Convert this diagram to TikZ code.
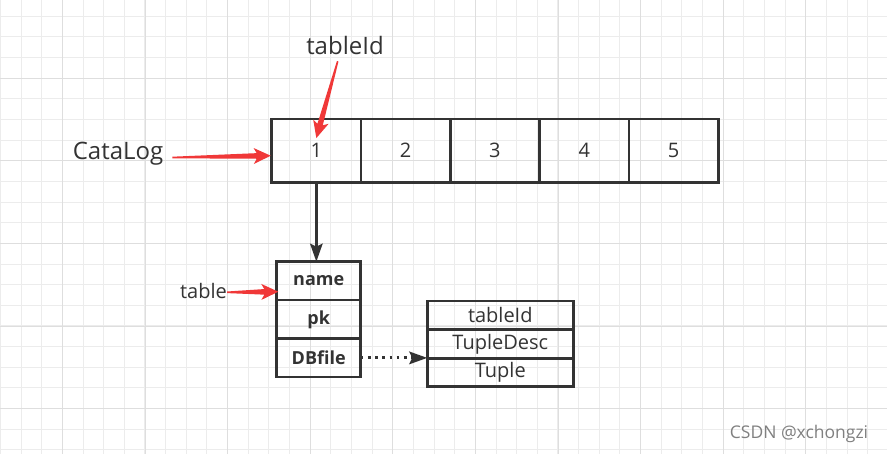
\documentclass[tikz,border=0pt]{standalone}
\usepackage{fontspec}
\setmainfont{Open Sans}
\usetikzlibrary{positioning,calc,arrows.meta}
\definecolor{boxline}{RGB}{51,51,51}
\definecolor{arrowred}{RGB}{240,56,56}
\definecolor{gridthin}{RGB}{236,236,236}
\definecolor{gridthick}{RGB}{222,222,222}
\newcommand\fatarrow[2]{%
  \path (#1) coordinate (fa-s) (#2) coordinate (fa-e);
  \path ($(fa-e)!14pt!(fa-s)$) coordinate (fa-h) ($(fa-e)!17pt!(fa-s)$) coordinate (fa-w);
  \fill[arrowred] ($(fa-s)!0.8pt!90:(fa-e)$) -- ($(fa-h)!2.8pt!90:(fa-e)$)
    -- ($(fa-w)!8pt!90:(fa-e)$) -- (fa-e) -- ($(fa-w)!8pt!-90:(fa-e)$)
    -- ($(fa-h)!2.8pt!-90:(fa-e)$) -- ($(fa-s)!0.8pt!-90:(fa-e)$) -- cycle;}

\begin{document}
\begin{tikzpicture}[x=1pt, y=-1pt, node distance=0pt,
   cell/.style={draw=boxline, line width=2.6pt, outer sep=0pt, minimum width=89.3pt,
     minimum height=63.3pt, text=boxline, font=\fontsize{20}{24}\selectfont},
   field/.style={draw=boxline, line width=2.6pt, outer sep=0pt, minimum width=84pt,
     minimum height=38.5pt, text=boxline, font=\fontsize{18}{22}\selectfont\bfseries},
   part/.style={draw=boxline, line width=2.8pt, outer sep=0pt, minimum width=146pt,
     minimum height=28.6pt, inner sep=0pt, text=boxline, font=\fontsize{20}{24}\selectfont},
   lbl/.style={text=boxline, inner sep=1pt},
   down/.style={draw=boxline, line width=2.4pt, -{Stealth[length=18pt,width=12.5pt,inset=3pt]}},
   dots/.style={draw=boxline, line width=3pt, dash pattern=on 2.7pt off 4.5pt,
     -{Stealth[length=18pt,width=12.5pt,inset=3pt]}}]
   \fill[white] (0,0) rectangle (887,454);
   \useasboundingbox (0,0) rectangle (887,454);
   \foreach \i in {-3,...,40}
     \draw[gridthin, line width=1.2pt] ({round(61.9+20.65*\i)+0.5},0) -- ({round(61.9+20.65*\i)+0.5},454);
   \foreach \i in {-4,...,18}
     \draw[gridthin, line width=1.2pt] (0,{round(77.7+20.65*\i)+0.5}) -- (887,{round(77.7+20.65*\i)+0.5});
   \foreach \i in {0,...,10}
     \draw[gridthick, line width=1.6pt] ({round(61.9+82.6*\i)+0.5},0) -- ({round(61.9+82.6*\i)+0.5},454);
   \foreach \i in {0,...,4}
     \draw[gridthick, line width=1.6pt] (0,{round(77.7+82.6*\i)+0.5}) -- (887,{round(77.7+82.6*\i)+0.5});

   \node[cell] (c1) at (316.35,150.7) {1};
   \foreach \n [remember=\n as \lastn (initially 1)] in {2,...,5}
     \node[cell, right=of c\lastn] (c\n) {\n};

   \node[field] (name) at (318.7,280.9) {name};
   \node[field, below=of name] (pk) {pk};
   \node[field, below=of pk] (db) {DBfile};

   \node[part] (tid) at (500.3,315.3) {tableId};
   \node[part, below=of tid] (tdesc) {TupleDesc};
   \node[part, below=of tdesc] (tup) {Tuple};

   \node[lbl, font=\fontsize{24}{28}\selectfont] (catalog) at (118,153.5) {CataLog};
   \node[lbl, font=\fontsize{24}{28}\selectfont] (tidlbl) at (345,45.8) {tableId};
   \node[lbl, font=\fontsize{20}{24}\selectfont] (tbl) at (203.5,290.8) {table};
   \node[text=gray, font=\fontsize{17.5}{20}\selectfont] (mark) at (799,434) {CSDN @xchongzi};

   \draw[down] (c1.south) -- (c1.south |- name.north);
   \draw[dots] (db.east) -- (db.east -| tup.west);

   \fatarrow{$(catalog.east)+(8,4)$}{$(c1.west)+(-1,5)$}
   \fatarrow{$(tidlbl.south)+(-7.3,5)$}{$(c1.north)+(0,19)$}
   \fatarrow{$(tbl.east)+(-1,1.5)$}{$(name.west)+(1.6,10.8)$}
\end{tikzpicture}
\end{document}
